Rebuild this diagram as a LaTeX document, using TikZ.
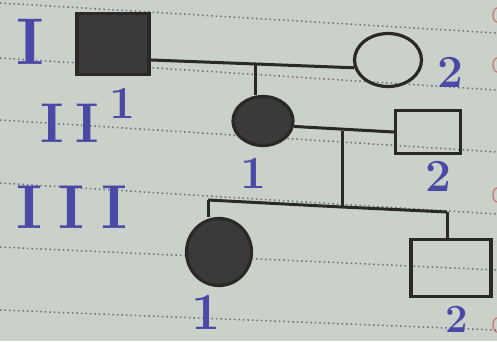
\documentclass[tikz,border=0pt]{standalone}
\usepackage{tikz}
\usepackage{xcolor}
\usetikzlibrary{shapes.geometric}
\definecolor{paper}{HTML}{C9D1C8}
\definecolor{ruleline}{HTML}{66727E}
\definecolor{inkblue}{HTML}{4A49A6}
\definecolor{inkblack}{HTML}{2B2828}
\definecolor{inkred}{HTML}{C0504D}

\tikzset{
  affected/.style={draw=inkblack, fill=inkblack!92, line width=3.2pt, inner sep=0pt},
  healthy/.style={draw=inkblack, fill=none, line width=3.2pt, inner sep=0pt},
  link/.style={draw=inkblack, line width=3pt},
  genlabel/.style={text=inkblue, inner sep=0pt},
  numlabel/.style={text=inkblue, inner sep=0pt, font=\fontsize{46}{46}\selectfont\bfseries},
}

\begin{document}
\begin{tikzpicture}[x=1pt, y=-1pt]
  % paper
  \fill[paper] (0,0) rectangle (497,341);
  \useasboundingbox (0,0) rectangle (497,341);
  \foreach \yl/\yr in {3/33, 58/90, 120/152, 183/214, 247/270, 310/330}
    \draw[ruleline, line width=1.5pt, dash pattern=on 1.5pt off 3pt] (0,\yl) -- (497,\yr);
  \foreach \yy in {15, 65, 195, 325}
    \draw[inkred!80, line width=1.2pt] (497,\yy-7) arc (90:270:4pt and 7pt);

  % generation labels
  \node[genlabel, font=\fontsize{66}{66}\selectfont\bfseries] (lgi) at (30,42) {I};
  \node[genlabel, font=\fontsize{56}{56}\selectfont\bfseries] (lgii) at (70,123) {I\hspace{12pt}I};
  \node[genlabel, font=\fontsize{62}{62}\selectfont\bfseries] (lgiii) at (72,207) {I\hspace{17pt}I\hspace{17pt}I};

  % individuals
  \node[affected, rectangle, minimum width=72pt, minimum height=61pt] (i1) at (113,44) {};
  \node[healthy, ellipse, minimum width=67pt, minimum height=53pt] (i2) at (388,60) {};
  \node[affected, ellipse, minimum width=60pt, minimum height=49pt] (ii1) at (263,121) {};
  \node[healthy, rectangle, minimum width=65pt, minimum height=43pt] (ii2) at (428,132) {};
  \node[affected, ellipse, minimum width=65pt, minimum height=67pt] (iii1) at (219,252) {};
  \node[healthy, rectangle, minimum width=80pt, minimum height=57pt] (iii2) at (451,268) {};

  % numbers
  \node[numlabel] (ni1) at (122,103) {1};
  \node[numlabel] (ni2) at (450,72) {2};
  \node[numlabel] (nii1) at (253,173) {1};
  \node[numlabel] (nii2) at (438,176) {2};
  \node[numlabel, font=\fontsize{52}{52}\selectfont\bfseries] (niii1) at (206,312) {1};
  \node[numlabel, font=\fontsize{40}{40}\selectfont\bfseries] (niii2) at (457,319) {2};

  % lines of descent
  \coordinate (m1) at (255,65);
  \coordinate (m2) at (342,131);
  \coordinate (sl) at (208,200);
  \coordinate (sm) at (342,207);
  \coordinate (sr) at (447,212);
  \draw[link] (i1.-23) -- (i2.193);
  \draw[link] (m1) -- (m1 |- ii1.north);
  \draw[link] (ii1.-10) -- (ii2.west);
  \draw[link] (m2) -- (sm);
  \draw[link] (sl) -- (sm) -- (sr);
  \draw[link] (sl) -- (sl |- iii1.north);
  \draw[link] (sr) -- (sr |- iii2.north);
\end{tikzpicture}
\end{document}
